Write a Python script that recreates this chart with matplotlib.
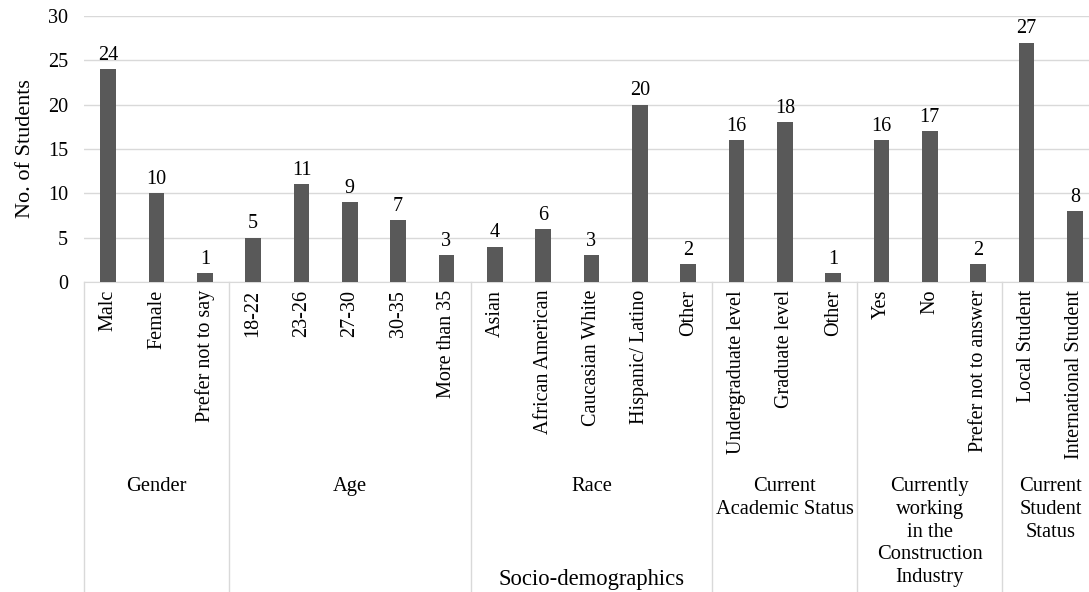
import matplotlib.pyplot as plt
import matplotlib.transforms as mtransforms

plt.rcParams['font.family'] = ['Liberation Serif', 'DejaVu Serif']

# survey counts, grouped by question
labels = ["Malc", "Female", "Prefer not to say",
          "18-22", "23-26", "27-30", "30-35", "More than 35",
          "Asian", "African American", "Caucasian White", "Hispanic/ Latino", "Other",
          "Undergraduate level", "Graduate level", "Other",
          "Yes", "No", "Prefer not to answer",
          "Local Student", "International Student"]
counts = [24, 10, 1,
          5, 11, 9, 7, 3,
          4, 6, 3, 20, 2,
          16, 18, 1,
          16, 17, 2,
          27, 8]
groups = ["Gender", "Age", "Race", "Current\nAcademic Status",
          "Currently\nworking\nin the\nConstruction\nIndustry",
          "Current\nStudent\nStatus"]
group_sizes = [3, 5, 5, 3, 3, 2]
yticks = [0, 5, 10, 15, 20, 25, 30]

W, H = 1089, 592
fig = plt.figure(figsize=(W / 100, H / 100), dpi=100)
left, right, top, bottom = 84, 1099, 16, 282
ax = fig.add_axes([left / W, 1 - bottom / H, (right - left) / W, (bottom - top) / H])

bar_color = "#595959"
grid_color = "#d9d9d9"
fs = 14.5

x = list(range(len(counts)))
bars = ax.bar(x, counts, width=0.32, color=bar_color, zorder=3)
for b, v in zip(bars, counts):
    ax.annotate(str(v), (b.get_x() + b.get_width() / 2, v), xytext=(0, 3),
                textcoords="offset points", ha="center", va="bottom", fontsize=fs)

ax.set_xlim(-0.5, len(counts) - 0.5)
ax.set_ylim(0, 30)
ax.set_yticks(yticks)
ax.tick_params(axis="y", length=0, labelsize=fs, pad=11.5)
ax.set_xticks([])
ax.yaxis.grid(True, color=grid_color, linewidth=1, zorder=0)
for s in ["left", "right", "top"]:
    ax.spines[s].set_visible(False)
ax.spines["bottom"].set_color(grid_color)
ax.set_ylabel("No. of Students", fontsize=16, labelpad=9)

# category labels, separators and group names below the axis
px = 1 / (bottom - top)  # one pixel in axes-fraction units
trans = mtransforms.blended_transform_factory(ax.transData, ax.transAxes)
for xi, lab in zip(x, labels):
    ax.text(xi, -8 * px, lab, rotation=90, ha="center", va="top",
            fontsize=fs, transform=trans)

start = 0
for g, n in zip(groups, group_sizes):
    ax.plot([start - 0.5, start - 0.5], [0, -(H - bottom) * px], color=grid_color,
            linewidth=1, transform=trans, clip_on=False)
    ax.text(start + (n - 1) / 2, -195 * px, g, ha="center", va="top",
            fontsize=fs + 0.3, linespacing=1.27, transform=trans)
    start += n

ax.text(0.5, -297 * px, "Socio-demographics", ha="center", va="center",
        fontsize=16.3, transform=ax.transAxes)

fig.savefig("out.png", dpi=100)
